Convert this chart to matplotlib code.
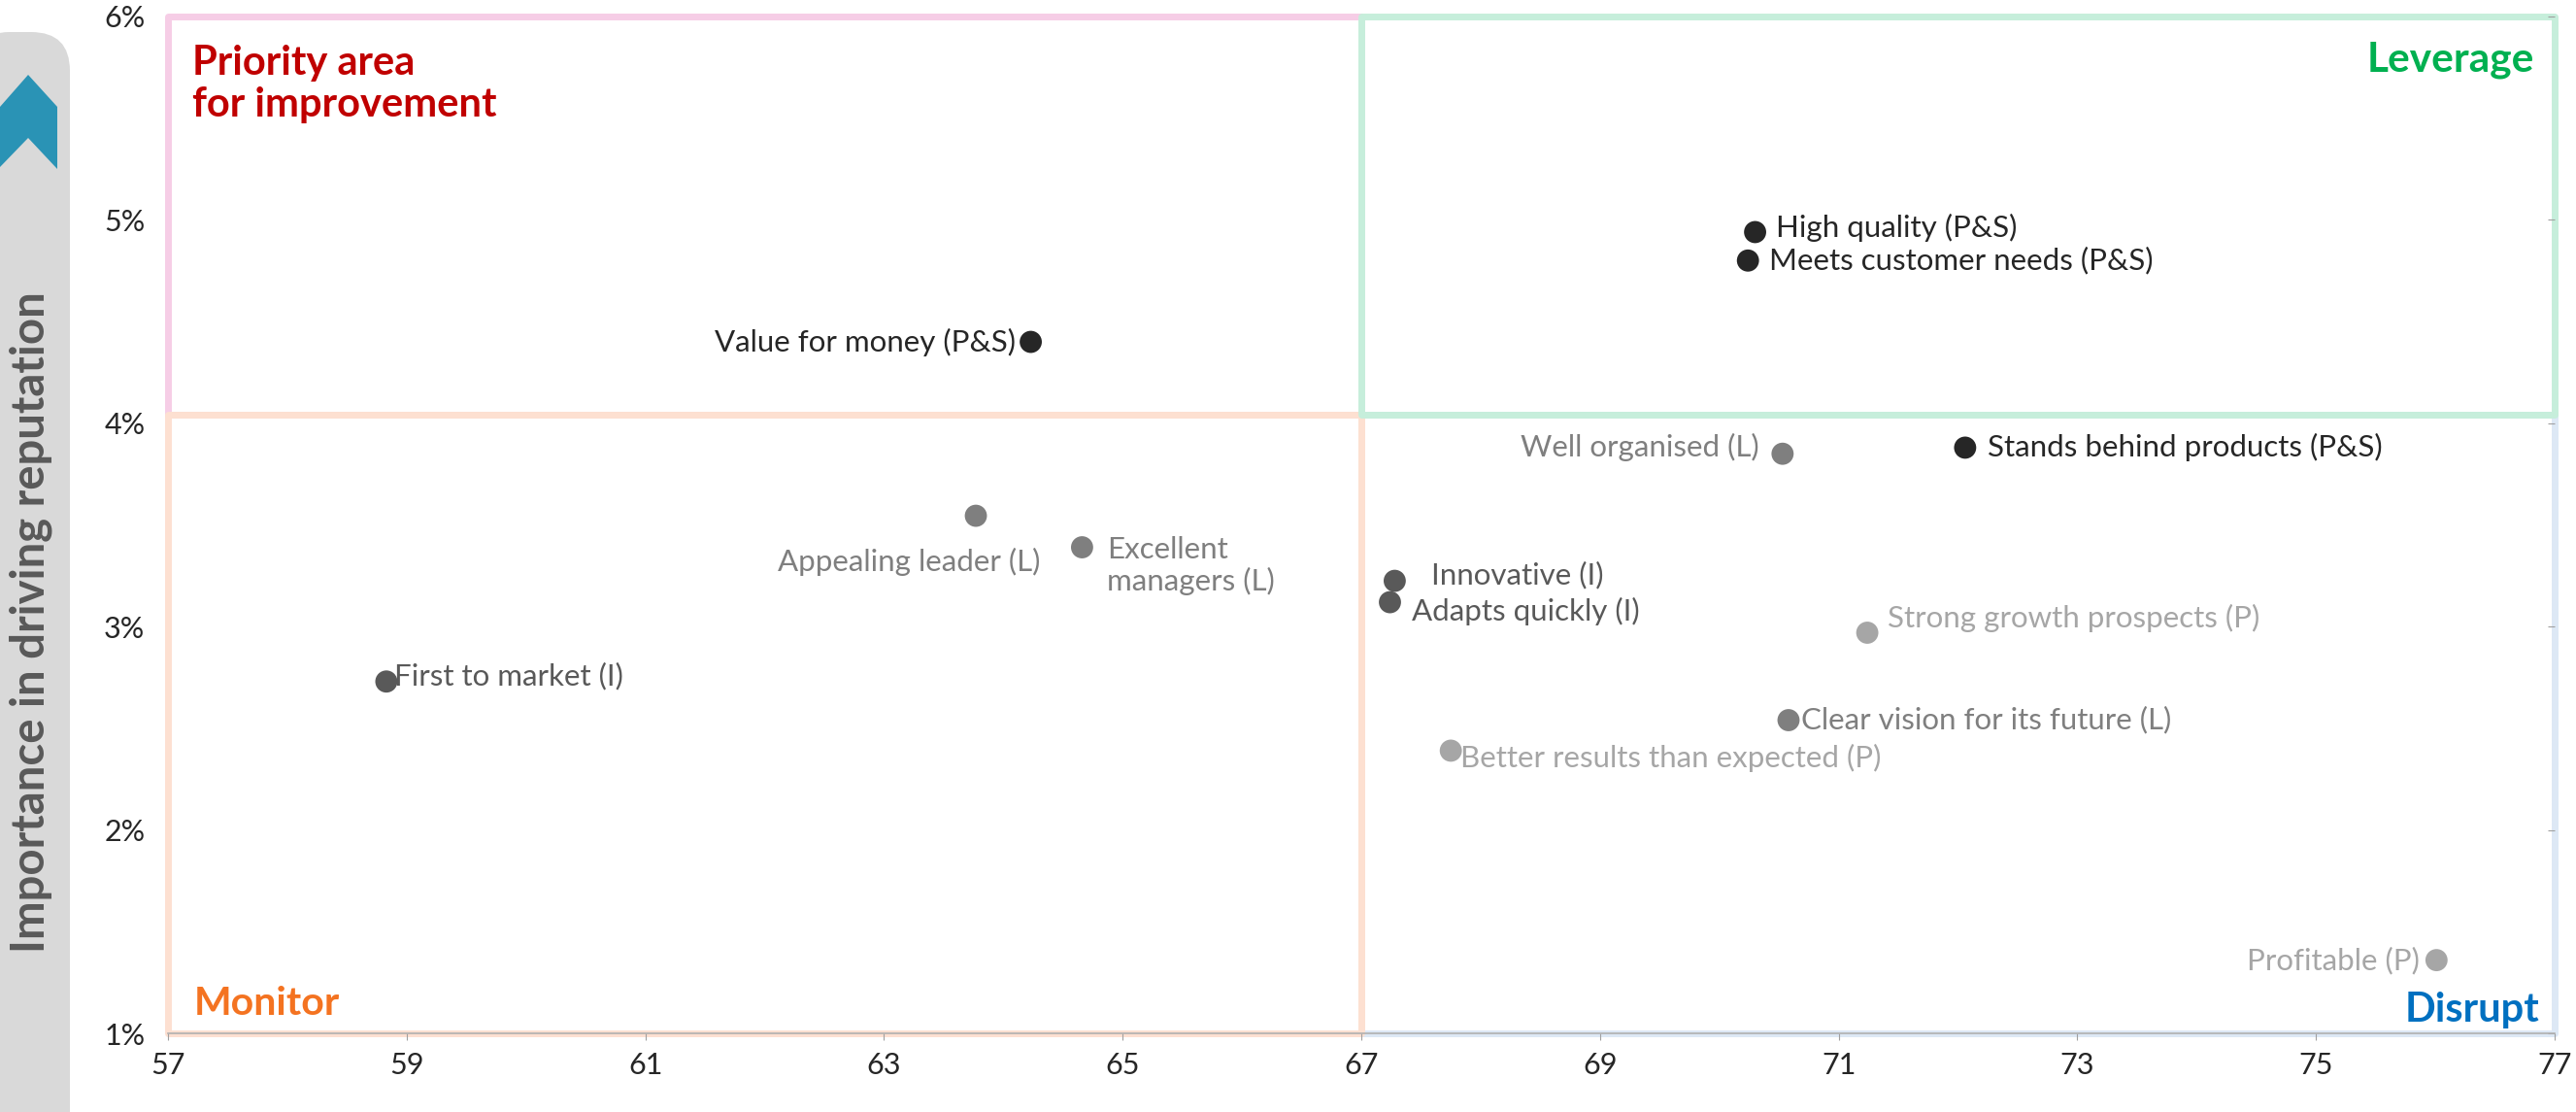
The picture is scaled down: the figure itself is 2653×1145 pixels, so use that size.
import matplotlib
matplotlib.use("Agg")
import matplotlib.pyplot as plt
from matplotlib.patches import Rectangle, FancyBboxPatch, Polygon

plt.rcParams['font.family'] = ['Lato', 'DejaVu Sans']

# data
names = ["High quality (P&S)", "Meets customer needs (P&S)", "Value for money (P&S)",
         "Appealing leader (L)", "Excellent\nmanagers (L)", "First to market (I)",
         "Well organised (L)", "Stands behind products (P&S)", "Innovative (I)",
         "Adapts quickly (I)", "Strong growth prospects (P)", "Clear vision for its future (L)",
         "Better results than expected (P)", "Profitable (P)"]
perf = [70.30, 70.24, 64.23, 63.77, 64.66, 58.83, 70.53, 72.06, 67.28, 67.24, 71.24, 70.58, 67.75, 76.01]
importance = [4.94, 4.80, 4.40, 3.545, 3.39, 2.73, 3.85, 3.88, 3.225, 3.12, 2.97, 2.54, 2.39, 1.36]
group = ["P&S", "P&S", "P&S", "L", "L", "I", "L", "P&S", "I", "I", "P", "L", "P", "P"]

x_ticks = [57, 59, 61, 63, 65, 67, 69, 71, 73, 75, 77]
y_ticks = [1, 2, 3, 4, 5, 6]
x_split, y_split = 67, 4.04

group_color = {"P&S": "#262626", "I": "#595959", "L": "#7f7f7f", "P": "#a6a6a6"}

# label placement (pixel offsets from the dot, alignment)
label_pos = [(21, 5, "left"), (22, 0, "left"), (-16, 0, "right"), (66, -47, "right"),
             (26, -19, "left"), (8, 6, "left"), (-24, 7, "right"), (23, 0, "left"),
             (38, 6, "left"), (23, -9, "left"), (21, 15, "left"), (13, 0, "left"),
             (10, -8, "left"), (-17, 0, "right")]

W, H = 2653, 1145
fig = plt.figure(figsize=(W / 100, H / 100), dpi=100)

# side bar with icon and title
bg = fig.add_axes([0, 0, 1, 1], zorder=-1)
bg.set_xlim(0, W)
bg.set_ylim(H, 0)
bg.axis("off")
bg.add_patch(FancyBboxPatch((-30, 33), 102, 1300, boxstyle="round,pad=0,rounding_size=40",
                            fc="#d9d9d9", ec="none"))
bg.add_patch(Polygon([(0, 110), (29, 77), (59, 110), (59, 174), (29, 142), (0, 172)],
                     closed=True, fc="#2a93b5", ec="none"))
bg.text(32, 641, "Importance in driving reputation", rotation=90, ha="center", va="center",
        fontsize=34, fontweight="bold", color="#595959")

ax = fig.add_axes([173 / W, 1 - 1064 / H, (2631 - 173) / W, (1064 - 17) / H])
ax.set_xlim(57, 77)
ax.set_ylim(1, 6)
ax.patch.set_alpha(0)

# quadrant boxes
quads = [
    (57, y_split, x_split, 6, "#f6cde6", 1.0),
    (x_split, 1, 77, y_split, "#dde8f5", 1.1),
    (57, 1, x_split, y_split, "#fde0d1", 1.2),
    (x_split, y_split, 77, 6, "#c6eedb", 1.3),
]
for x0, y0, x1, y1, c, z in quads:
    ax.add_patch(Rectangle((x0, y0), x1 - x0, y1 - y0, fill=False, ec=c, lw=5,
                           joinstyle="round", clip_on=False, zorder=z))

ax.text(0.0102, 0.9016, "Priority area\nfor improvement", transform=ax.transAxes,
        ha="left", va="baseline", fontsize=30, fontweight="bold", color="#c00000",
        linespacing=1.15)
ax.text(0.9915, 0.9465, "Leverage", transform=ax.transAxes, ha="right", va="baseline",
        fontsize=30.5, fontweight="bold", color="#00b050")
ax.text(0.011, 0.018, "Monitor", transform=ax.transAxes, ha="left", va="baseline",
        fontsize=29.5, fontweight="bold", color="#f47321")
ax.text(0.9935, 0.0115, "Disrupt", transform=ax.transAxes, ha="right", va="baseline",
        fontsize=30, fontweight="bold", color="#0070c0")

cols = [group_color[g] for g in group]
ax.scatter(perf, importance, s=270, c=cols, zorder=3, linewidths=0)
for name, x, y, c, (dx, dy, ha) in zip(names, perf, importance, cols, label_pos):
    ax.annotate(name, (x, y), xytext=(dx, dy), textcoords="offset pixels",
                ha=ha, va="center", fontsize=22.5, color=c, zorder=4)

ax.set_xticks(x_ticks)
ax.set_yticks(y_ticks)
ax.set_yticklabels([f"{v}%" for v in y_ticks])
for s in ["top", "left", "right"]:
    ax.spines[s].set_visible(False)
ax.spines["bottom"].set_color("#b0b0b0")
ax.spines["bottom"].set_linewidth(1.2)
ax.tick_params(axis="x", length=5, color="#a0a0a0", labelsize=22, labelcolor="#262626", pad=9)
ax.tick_params(axis="y", left=False, right=True, direction="in", length=5, color="#a0a0a0",
               labelsize=22, labelcolor="#262626", pad=17)

fig.savefig("out.png", dpi=100)
